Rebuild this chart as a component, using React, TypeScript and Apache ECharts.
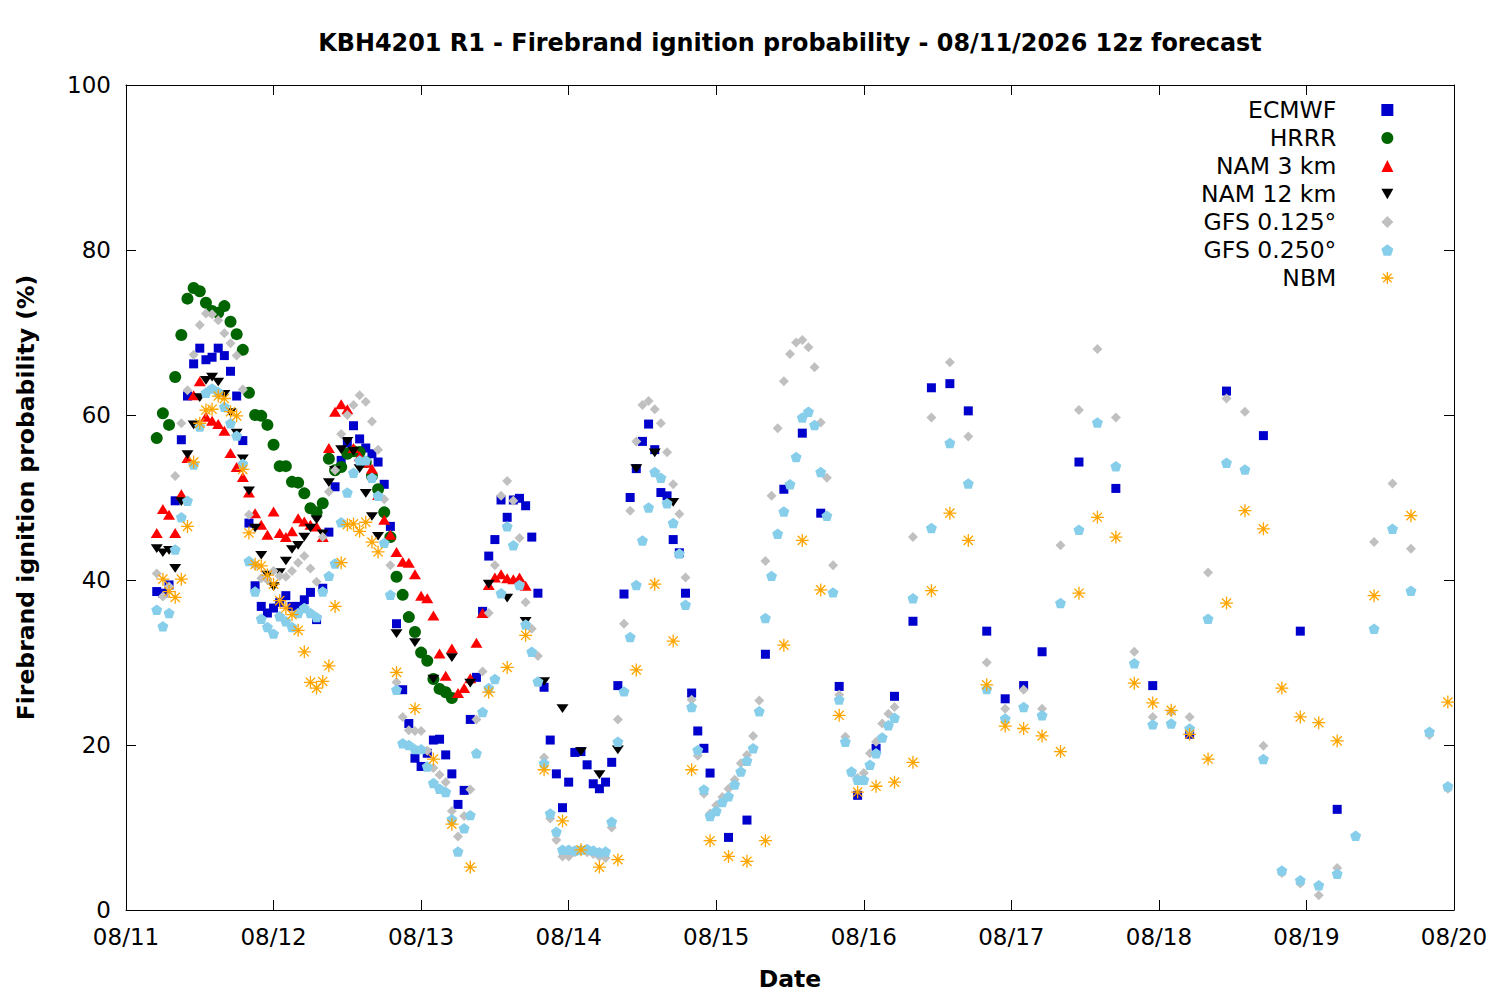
import React, { useEffect, useRef } from "react";
import * as echarts from "echarts";

const FONT = "'DejaVu Sans', Verdana, sans-serif";
const TITLE = "KBH4201 R1 - Firebrand ignition probability - 08/11/2026 12z forecast";
const DAY_LABELS = ["08/11", "08/12", "08/13", "08/14", "08/15", "08/16", "08/17", "08/18", "08/19", "08/20"];
const SERIES_NAMES = ["ECMWF", "HRRR", "NAM 3 km", "NAM 12 km", "GFS 0.125°", "GFS 0.250°", "NBM"];

// hours are counted from 08/11 00 (local); [first hour, step in hours, values in %]
type Seg = [number, number, number[]];

const ECMWF_HOURLY = [
  38.6, 38.4, 39.4, 49.6, 57.0, 62.3, 66.2, 68.1, 66.7, 67.0,
  68.1, 67.2, 65.3, 62.3, 56.9, 46.9, 39.3, 36.8, 36.0, 36.6,
  37.3, 38.1, 36.8, 36.8, 37.6, 38.5, 35.2, 39.0, 45.8, 51.3,
  54.5, 56.6, 58.7, 57.1, 56.0, 55.3, 54.3, 51.6, 46.5, 34.7,
  26.7, 22.6, 18.4, 17.4, 19.0, 20.6, 20.7, 18.8, 16.5, 12.8,
  14.5, 23.1, 28.2, 36.2, 42.9, 44.9, 49.7, 47.6, 49.7, 49.9,
  49.0, 45.2, 38.4, 27.0, 20.6, 16.5, 12.4, 15.5, 19.1, 19.2,
  17.6, 15.3, 14.7, 15.5, 17.9, 27.2, 38.3, 50.0, 53.5, 56.8,
  58.9, 55.8, 50.6, 50.2, 44.9, 43.3, 38.4, 26.3, 21.7, 19.6,
  16.6,
];
const ECMWF_3H = [8.8, 10.9, 31.0, 51.0, 57.8, 48.1, 27.1, 13.9, 19.6, 25.9, 35.0, 63.3, 63.8, 60.5, 33.8, 25.6, 27.2, 31.3];
const ECMWF_6H = [54.3, 51.1, 27.2, 21.3, 62.9, 57.5, 33.8, 12.2];

const HRRR_HOURLY = [
  57.2, 60.2, 58.8, 64.6, 69.7, 74.1, 75.4, 75.0, 73.6, 72.6,
  72.4, 73.2, 71.3, 69.8, 67.9, 62.7, 60.0, 59.9, 58.8, 56.4,
  53.8, 53.8, 51.9, 51.8, 50.5, 48.7, 48.2, 49.3, 54.7, 53.3,
  53.7, 55.3, 55.6, 55.5, 54.3, 52.6, 51.0, 48.2, 45.2, 40.4,
  38.2, 35.5, 33.7, 31.2, 30.2, 28.0, 26.8, 26.4, 25.7,
];

const NAM3_HOURLY = [
  45.7, 48.6, 47.9, 45.7, 50.4, 54.8, 62.4, 64.1, 59.8, 59.3,
  58.9, 58.1, 55.4, 53.7, 52.5, 50.6, 48.1, 46.7, 45.5, 48.3,
  45.7, 45.2, 45.9, 47.5, 47.1, 46.7, 46.5, 45.2, 56.0, 60.4,
  61.3, 60.7, 56.0, 55.0, 54.2, 53.5, 50.3, 47.3, 45.5, 43.4,
  42.2, 42.1, 40.7, 38.1, 37.8, 35.7, 31.1, 28.4, 31.7, 26.3,
  26.9, 28.1, 32.4, 36.0, 39.4, 40.3, 40.7, 40.2, 40.1, 40.3, 39.3,
];

const NAM12_HOURLY = [
  43.8, 43.3, 43.6, 41.4, 49.5, 55.2, 58.8, 62.1, 64.2, 64.6,
  64.0, 62.5, 60.3, 57.8, 54.7, 50.8, 46.3, 43.0, 40.6, 39.2,
  40.9, 42.3, 43.7, 44.2, 45.2, 46.3, 47.3, 45.6, 51.8, 53.3,
  55.8, 56.8, 55.6, 53.5, 50.5, 47.7, 45.3,
];
const NAM12_3H = [33.5, 32.4, 28.0, 30.6, 27.5, 39.5, 37.8, 35.0, 27.7, 24.4, 19.2, 16.4, 19.4, 53.5, 55.4, 49.4];

const GFS125_HOURLY = [
  40.8, 38.0, 39.2, 52.6, 59.0, 63.0, 67.3, 70.9, 72.3, 72.2,
  71.5, 69.9, 68.7, 67.2, 63.1, 47.9, 41.8, 40.2, 40.0, 41.1,
  40.5, 40.4, 41.1, 42.1, 42.9, 41.4, 39.8, 45.2, 50.7, 53.3,
  57.7, 60.0, 61.2, 62.4, 61.6, 59.2, 55.8, 49.8, 41.8, 27.6,
  23.4, 21.8, 21.7, 21.7, 19.3, 17.2, 16.4, 15.5, 12.0, 8.9,
  11.4, 14.6, 23.1, 28.9, 36.0, 41.8, 50.2, 52.0, 49.6, 45.1,
  37.3, 34.1, 30.8, 18.5, 11.1, 8.5, 6.5, 6.5, 7.0, 7.2,
  7.0, 6.8, 6.5, 6.3, 10.0, 23.1, 34.7, 48.4, 56.8, 61.2,
  61.7, 60.7, 59.0, 55.5, 51.6, 48.0, 40.3, 25.5, 18.7, 14.1,
  11.7, 12.7, 13.7, 14.7, 15.8, 17.8, 18.8, 21.1, 25.4, 42.3,
  50.2, 58.4, 64.1, 67.4, 68.8, 69.1, 68.2, 65.8, 59.1, 52.4,
  41.8, 26.1, 21.0, 16.6, 16.0, 16.6, 19.0, 20.4, 22.6, 23.8, 24.6,
];
const GFS125_3H = [
  45.2, 59.7, 66.4, 57.4, 30.0, 24.4, 26.7, 24.4, 44.2, 60.6,
  68.0, 59.7, 31.3, 23.4, 24.0, 23.4, 40.9, 62.0, 60.4, 19.9,
  4.5, 3.2, 1.8, 5.1, 9.0, 44.6, 51.7, 43.8, 21.2, 14.7,
];

const GFS250_HOURLY = [
  36.4, 34.4, 36.0, 43.7, 47.6, 49.6, 54.0, 58.6, 62.7, 63.2,
  62.8, 61.0, 59.0, 57.5, 54.1, 42.3, 38.6, 35.3, 34.3, 33.5,
  35.6, 35.0, 34.3, 36.0, 36.6, 36.0, 35.5, 38.6, 40.5, 42.0,
  47.0, 50.6, 53.0, 54.5, 54.5, 52.4, 50.2, 44.5, 38.2, 26.7,
  20.2, 20.0, 19.5, 19.5, 17.4, 15.4, 14.7, 14.3, 11.0, 7.1,
  9.9, 11.5, 19.0, 24.0, 26.9, 28.0, 38.4, 46.5, 44.2, 39.4,
  34.6, 31.3, 27.7, 17.8, 11.7, 9.5, 7.3, 7.3, 7.2, 7.3,
  7.4, 7.2, 7.0, 7.1, 10.7, 20.4, 26.5, 33.1, 39.4, 44.8,
  48.8, 53.1, 52.4, 49.3, 46.9, 43.2, 37.0, 24.6, 19.4, 14.6,
  11.4, 12.0, 13.1, 13.8, 15.2, 16.8, 18.1, 19.6, 24.1, 35.4,
  40.5, 45.6, 48.3, 51.6, 54.9, 59.7, 60.4, 58.8, 53.1, 47.8,
  38.5, 25.5, 20.4, 16.8, 15.8, 15.8, 17.6, 19.0, 20.9, 22.4, 23.3,
];
const GFS250_3H = [
  37.8, 46.3, 56.6, 51.7, 26.8, 23.2, 24.6, 23.6, 37.2, 46.1,
  59.1, 53.8, 29.9, 22.5, 22.6, 22.0, 35.3, 54.2, 53.4, 18.3,
  4.8, 3.6, 3.0, 4.4, 9.0, 34.1, 46.2, 38.7, 21.6, 15.0,
];

const NBM_HOURLY = [
  40.1, 38.6, 37.9, 40.1, 46.5, 54.3, 59.0, 60.6, 60.7, 62.3,
  62.0, 60.4, 59.9, 53.4, 45.7, 41.9, 41.7, 40.6, 39.5, 37.5,
  36.6, 35.8, 33.9, 31.3, 27.6, 26.9, 27.7, 29.6, 36.8, 42.1,
  46.7, 46.8, 45.9, 47.0, 44.6, 43.4,
];
const NBM_3H = [
  28.8, 24.4, 18.3, 10.4, 5.2, 26.4, 29.4, 33.3, 17.0, 10.8,
  7.3, 5.2, 6.1, 29.1, 39.5, 32.6, 17.0, 8.4, 6.5, 5.9,
  8.4, 32.1, 44.8, 38.8, 23.6, 14.3, 15.0, 15.5, 17.9, 38.7,
  48.1, 44.8, 27.3, 22.3, 22.0, 21.1, 19.2, 38.4, 47.6, 45.2,
  27.5, 25.1, 24.2, 21.3, 18.3, 37.2, 48.4, 46.2, 26.9, 23.4,
  22.7, 20.5,
];
const NBM_6H = [38.1, 47.8, 25.2];

const SEGMENTS: Seg[][] = [
  [[5, 1, ECMWF_HOURLY], [98, 3, ECMWF_3H], [155, 6, ECMWF_6H]],
  [[5, 1, HRRR_HOURLY]],
  [[5, 1, NAM3_HOURLY]],
  [[5, 1, NAM12_HOURLY], [44, 3, NAM12_3H]],
  [[5, 1, GFS125_HOURLY], [128, 3, GFS125_3H]],
  [[5, 1, GFS250_HOURLY], [128, 3, GFS250_3H]],
  [[6, 1, NBM_HOURLY], [44, 3, NBM_3H], [203, 6, NBM_6H]],
];

const build = (segs: Seg[]) =>
  segs.flatMap(([start, step, vals]) => vals.map((v, i) => [start + i * step, v]));

const DOWN_TRI = "path://M0,0 L12,0 L6,10.4 Z";
const PENTAGON = "path://M5,0 L9.755,3.455 L7.939,9.045 L2.061,9.045 L0.245,3.455 Z";
const ASTERISK = "path://M6,0 L6,12 M0,6 L12,6 M1.76,1.76 L10.24,10.24 M1.76,10.24 L10.24,1.76";

const STYLES = [
  { symbol: "rect", size: 9, color: "#0000cc" },
  { symbol: "circle", size: 12, color: "#006400" },
  { symbol: "triangle", size: [12, 10], color: "#ff0000" },
  { symbol: DOWN_TRI, size: [12, 10], color: "#000000" },
  { symbol: "diamond", size: 10, color: "#c0c0c0" },
  { symbol: PENTAGON, size: 11, color: "#87ceeb" },
  { symbol: ASTERISK, size: 13, color: "#ffa500", stroke: true },
];

export default function App() {
  const ref = useRef<HTMLDivElement>(null);

  useEffect(() => {
    if (!ref.current) return;
    const chart = echarts.init(ref.current, null, { renderer: "svg" });

    const axisCommon = {
      axisLine: { show: true, onZero: false, lineStyle: { color: "#000", width: 1 } },
      axisTick: { show: true, inside: true, length: 10, lineStyle: { color: "#000", width: 1 } },
      splitLine: { show: false },
    };

    const series = SERIES_NAMES.map((name, i) => {
      const st = STYLES[i];
      return {
        name,
        type: "scatter",
        data: build(SEGMENTS[i]),
        symbol: st.symbol,
        symbolSize: st.size,
        symbolKeepAspect: true,
        itemStyle: st.stroke
          ? { color: st.color, borderColor: st.color, borderWidth: 1.3, opacity: 1 }
          : { color: st.color, opacity: 1 },
        emphasis: { disabled: true },
      };
    });

    chart.setOption({
      animation: false,
      backgroundColor: "#ffffff",
      title: {
        text: TITLE,
        left: 790,
        top: 31,
        padding: 0,
        textAlign: "center",
        textStyle: { fontFamily: FONT, fontSize: 23.9, fontWeight: "bold", color: "#000" },
      },
      legend: {
        orient: "vertical",
        right: 106,
        top: 98,
        padding: 0,
        align: "right",
        itemWidth: 12,
        itemHeight: 12,
        itemGap: 4,
        selectedMode: false,
        formatter: (name: string) => `{t|${name}}`,
        textStyle: {
          color: "#000",
          fontFamily: FONT,
          fontSize: 23.5,
          rich: { t: { fontFamily: FONT, fontSize: 23.5, color: "#000", padding: [0, 40, 0, 0] } },
        },
        data: SERIES_NAMES.map((name, i) => ({
          name,
          icon: STYLES[i].symbol,
          itemStyle: STYLES[i].stroke
            ? { color: STYLES[i].color, borderColor: STYLES[i].color, borderWidth: 1.3 }
            : { color: STYLES[i].color, borderWidth: 0 },
        })),
      },
      grid: { left: 126, right: 46, top: 85, bottom: 90, containLabel: false },
      xAxis: [
        {
          type: "value",
          position: "bottom",
          min: 0,
          max: 216,
          interval: 24,
          ...axisCommon,
          axisLabel: {
            formatter: (v: number) => DAY_LABELS[Math.round(v / 24)],
            fontFamily: FONT,
            fontSize: 23,
            color: "#000",
            margin: 15,
          },
          name: "Date",
          nameLocation: "middle",
          nameGap: 57,
          nameTextStyle: { fontFamily: FONT, fontSize: 23.5, fontWeight: "bold", color: "#000" },
        },
        {
          type: "value",
          position: "top",
          min: 0,
          max: 216,
          interval: 24,
          ...axisCommon,
          axisLabel: { show: false },
        },
      ],
      yAxis: [
        {
          type: "value",
          position: "left",
          min: 0,
          max: 100,
          interval: 20,
          ...axisCommon,
          axisLabel: { fontFamily: FONT, fontSize: 23, color: "#000", margin: 15 },
          name: "Firebrand ignition probability (%)",
          nameLocation: "middle",
          nameGap: 88,
          nameTextStyle: { fontFamily: FONT, fontSize: 23.5, fontWeight: "bold", color: "#000" },
        },
        {
          type: "value",
          position: "right",
          min: 0,
          max: 100,
          interval: 20,
          ...axisCommon,
          axisLabel: { show: false },
        },
      ],
      series,
    });

    return () => chart.dispose();
  }, []);

  return (
    <div
      ref={ref}
      style={{ position: "fixed", left: 0, top: 0, width: 1500, height: 1000, background: "#fff" }}
    />
  );
}
